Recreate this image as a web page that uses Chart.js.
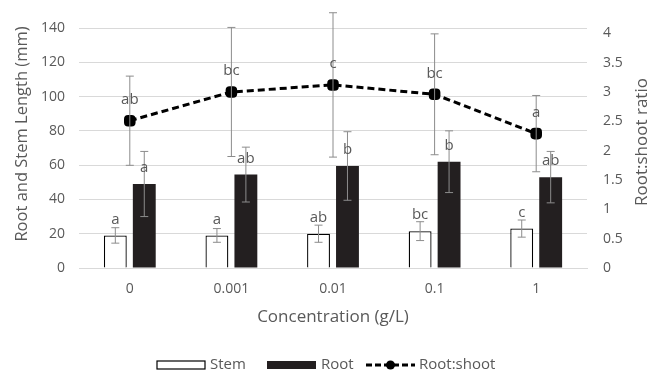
<!DOCTYPE html>
<html>
<head>
<meta charset="utf-8">
<script src="https://cdn.jsdelivr.net/npm/chart.js@4"></script>
<style>
  html, body { margin: 0; padding: 0; background: #fff; }
  #wrap { width: 651px; height: 374px; }
</style>
</head>
<body>
<div id="wrap"><canvas id="chart" width="651" height="374"></canvas></div>
<script>
// categories (concentration g/L)
const concentrations = ['0', '0.001', '0.01', '0.1', '1'];

// stem and root length (mm) with error
const stemLength = [19, 19, 20, 21.5, 23];
const stemError = [4.5, 4, 5, 5.5, 5];
const rootLength = [49, 54.5, 59.5, 62, 53];
const rootError = [19, 16, 20, 18, 15];

// root:shoot ratio with error
const rootShoot = [2.51, 3.0, 3.12, 2.96, 2.29];
const rootShootError = [0.76, 1.1, 1.23, 1.03, 0.65];

// significance letters
const stemLetters = ['a', 'a', 'ab', 'bc', 'c'];
const rootLetters = ['a', 'ab', 'b', 'b', 'ab'];
const ratioLetters = ['ab', 'bc', 'c', 'bc', 'a'];

const leftTicks = [0, 20, 40, 60, 80, 100, 120, 140];
const rightTicks = [0, 0.5, 1, 1.5, 2, 2.5, 3, 3.5, 4];

const leftTitle = 'Root and Stem Length (mm)';
const rightTitle = 'Root:shoot ratio';
const xTitle = 'Concentration (g/L)';

const grey = '#595959';
const rootFill = '#231f20';
const fontFamily = '"Open Sans", "Liberation Sans", sans-serif';

// error bars and letters, then titles and legend
const errorBarsPlugin = {
    id: 'errorBars',
    afterDatasetsDraw(chart) {
        const ctx = chart.ctx;
        const yL = chart.scales.y;
        const yR = chart.scales.y1;
        const sets = [
            { meta: chart.getDatasetMeta(0), vals: stemLength, err: stemError, letters: stemLetters, scale: yL, cap: 4, off: 16 },
            { meta: chart.getDatasetMeta(1), vals: rootLength, err: rootError, letters: rootLetters, scale: yL, cap: 4, off: 16 },
            { meta: chart.getDatasetMeta(2), vals: rootShoot, err: rootShootError, letters: ratioLetters, scale: yR, cap: 4, off: 21 }
        ];
        ctx.save();
        sets.forEach(s => {
            s.meta.data.forEach((el, i) => {
                const x = el.x;
                const top = s.scale.getPixelForValue(s.vals[i] + s.err[i]);
                const bot = s.scale.getPixelForValue(s.vals[i] - s.err[i]);
                ctx.strokeStyle = '#8c8c8c';
                ctx.lineWidth = 1;
                ctx.beginPath();
                ctx.moveTo(x, top); ctx.lineTo(x, bot);
                ctx.moveTo(x - s.cap, top); ctx.lineTo(x + s.cap, top);
                ctx.moveTo(x - s.cap, bot); ctx.lineTo(x + s.cap, bot);
                ctx.stroke();
            });
        });
        ctx.fillStyle = grey;
        ctx.font = '15px ' + fontFamily;
        ctx.textAlign = 'center';
        ctx.textBaseline = 'middle';
        sets.forEach(s => {
            s.meta.data.forEach((el, i) => {
                const y = s.scale.getPixelForValue(s.vals[i]);
                ctx.fillText(s.letters[i], el.x, y - s.off);
            });
        });
        ctx.restore();
    },
    afterDraw(chart) {
        const ctx = chart.ctx;
        const area = chart.chartArea;
        ctx.save();
        ctx.fillStyle = grey;
        ctx.textAlign = 'center';
        ctx.textBaseline = 'middle';

        // x title
        ctx.font = '17px ' + fontFamily;
        ctx.fillText(xTitle, (area.left + area.right) / 2, 317);

        // y titles read bottom to top
        ctx.font = '16.5px ' + fontFamily;
        ctx.translate(22, 134);
        ctx.rotate(-Math.PI / 2);
        ctx.fillText(leftTitle, 0, 0);
        ctx.setTransform(1, 0, 0, 1, 0, 0);
        ctx.font = '17px ' + fontFamily;
        ctx.translate(642, 142);
        ctx.rotate(-Math.PI / 2);
        ctx.fillText(rightTitle, 0, 0);
        ctx.setTransform(1, 0, 0, 1, 0, 0);

        // legend
        const ly = 365;
        ctx.font = '15px ' + fontFamily;
        ctx.textAlign = 'left';
        ctx.lineWidth = 1.2;
        ctx.strokeStyle = '#000';
        ctx.fillStyle = '#fff';
        ctx.fillRect(157, ly - 4, 48, 8);
        ctx.strokeRect(157, ly - 4, 48, 8);
        ctx.fillStyle = rootFill;
        ctx.fillRect(267, ly - 4, 49, 8);
        ctx.lineWidth = 3;
        ctx.setLineDash([6, 3]);
        ctx.beginPath();
        ctx.moveTo(366, ly); ctx.lineTo(415, ly);
        ctx.stroke();
        ctx.setLineDash([]);
        ctx.fillStyle = '#000';
        ctx.beginPath();
        ctx.arc(390.5, ly, 4.5, 0, Math.PI * 2);
        ctx.fill();
        ctx.fillStyle = grey;
        ctx.fillText('Stem', 210, ly);
        ctx.fillText('Root', 321, ly);
        ctx.fillText('Root:shoot', 419, ly);
        ctx.restore();
    }
};

const ctx = document.getElementById('chart').getContext('2d');
const chart = new Chart(ctx, {
    data: {
        labels: concentrations,
        datasets: [
            {
                type: 'bar',
                label: 'Stem',
                data: stemLength,
                backgroundColor: '#ffffff',
                borderColor: '#000000',
                borderWidth: 1.3,
                yAxisID: 'y',
                order: 2
            },
            {
                type: 'bar',
                label: 'Root',
                data: rootLength,
                backgroundColor: rootFill,
                borderColor: rootFill,
                borderWidth: 0,
                yAxisID: 'y',
                order: 2
            },
            {
                type: 'line',
                label: 'Root:shoot',
                data: rootShoot,
                borderColor: '#000000',
                borderWidth: 3,
                borderDash: [7, 4],
                pointStyle: 'rectRounded',
                pointRadius: 5,
                pointBackgroundColor: '#000000',
                pointBorderColor: '#000000',
                fill: false,
                tension: 0,
                yAxisID: 'y1',
                order: 1
            }
        ]
    },
    options: {
        responsive: false,
        animation: false,
        layout: { padding: { top: 28, left: 0, right: 0, bottom: 0 } },
        datasets: {
            bar: { categoryPercentage: 0.57, barPercentage: 0.79 }
        },
        plugins: {
            tooltip: { enabled: false },
            legend: { display: false }
        },
        scales: {
            x: {
                afterFit(scale) { scale.height = 106; },
                grid: { display: false, drawTicks: false },
                border: { color: '#d9d9d9', width: 1 },
                ticks: { color: grey, font: { family: fontFamily, size: 14 }, padding: 13 }
            },
            y: {
                position: 'left',
                min: 0,
                max: 140,
                afterBuildTicks(scale) { scale.ticks = leftTicks.map(v => ({ value: v })); },
                afterFit(scale) { scale.width = 79; },
                grid: { color: '#d9d9d9', drawTicks: false },
                border: { display: false },
                ticks: { color: grey, font: { family: fontFamily, size: 14 }, padding: 14 }
            },
            y1: {
                position: 'right',
                min: 0,
                max: 4.09,
                afterBuildTicks(scale) { scale.ticks = rightTicks.map(v => ({ value: v })); },
                afterFit(scale) { scale.width = 64; },
                grid: { display: false, drawTicks: false },
                border: { display: false },
                ticks: {
                    color: grey,
                    font: { family: fontFamily, size: 14 },
                    padding: 16,
                    callback: v => String(v)
                }
            }
        }
    },
    plugins: [errorBarsPlugin]
});
</script>
</body>
</html>
